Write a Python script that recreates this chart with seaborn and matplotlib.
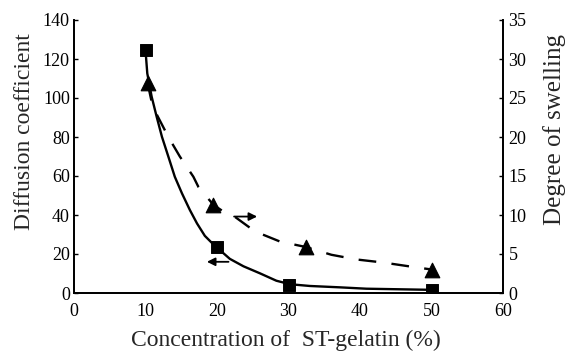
import numpy as np
import pandas as pd
import matplotlib
matplotlib.use("Agg")
import matplotlib.pyplot as plt
import seaborn as sns

# ---- data ----
conc_diff = [10, 20, 30, 50]                 # squares (left axis)
diffusion = [124.5, 23.5, 4.3, 1.5]
conc_swell = [10.3, 19.5, 32.4, 50.1]        # triangles (right axis)
swelling = [26.9, 11.3, 5.9, 3.0]

# smooth fitted curves as drawn in the picture
solid_x = [10.0, 10.25, 10.86, 11.56, 12.3, 13.2, 14.1, 15.1, 16.2, 17.2, 18.3, 19.2, 20.0,
           21.8, 23.7, 26.0, 28.3, 30.2, 33.0, 37.2, 40.9, 45.6, 50.3]
solid_y = [124.5, 112.6, 100.7, 90.4, 80.1, 69.9, 59.6, 51.1, 42.6, 35.7, 29.3, 26.0, 23.3,
           17.5, 13.7, 10.1, 6.3, 4.5, 3.6, 2.9, 2.2, 1.9, 1.6]
dash_x = [10.3, 11.0, 13.2, 14.8, 16.7, 17.4, 19.5, 21.6, 22.3, 25.3, 28.8, 32.4, 36.0,
          39.5, 43.3, 47.0, 50.1]
dash_y = [26.9, 23.9, 20.0, 17.5, 14.9, 13.6, 11.3, 10.0, 9.9, 7.9, 6.6, 5.9, 4.9,
          4.3, 3.9, 3.4, 3.0]

x_ticks = [0, 10, 20, 30, 40, 50, 60]
left_ticks = [0, 20, 40, 60, 80, 100, 120, 140]
right_ticks = [0, 5, 10, 15, 20, 25, 30, 35]

sns.set_theme(style="white")
plt.rcParams["font.family"] = ["Liberation Serif", "DejaVu Serif"]
plt.rcParams["xtick.direction"] = "in"
plt.rcParams["ytick.direction"] = "in"

fig = plt.figure(figsize=(5.67, 3.52), dpi=100)
ax = fig.add_axes([74/567, 1-293/352, (503-74)/567, (293-20)/352])
ax2 = ax.twinx()

sns.lineplot(x=solid_x, y=solid_y, ax=ax, color="black", lw=1.7, sort=False, estimator=None)
sns.scatterplot(x=conc_diff, y=diffusion, ax=ax, marker="s", s=70, color="black",
                edgecolor="black", zorder=5)

sns.lineplot(x=dash_x, y=dash_y, ax=ax2, color="black", lw=1.7, sort=False, estimator=None)
ax2.lines[-1].set_linestyle((0, (7.5, 6.5)))
sns.scatterplot(x=conc_swell, y=swelling, ax=ax2, marker="^", s=110, color="black",
                edgecolor="black", zorder=5)

# arrows indicating the axis of each curve
ax.annotate("", xy=(18.2, 16.0), xytext=(22.0, 16.0),
            arrowprops=dict(arrowstyle="-|>", color="black", lw=1.3, mutation_scale=12))
ax2.annotate("", xy=(26.0, 9.8), xytext=(22.0, 9.8),
             arrowprops=dict(arrowstyle="-|>", color="black", lw=1.3, mutation_scale=12))

ax.set_xlim(0, 60)
ax.set_ylim(0, 140)
ax2.set_ylim(0, 35)
ax.set_xticks(x_ticks)
ax.set_yticks(left_ticks)
ax2.set_yticks(right_ticks)

ax.set_xlabel("Concentration of  ST-gelatin (%)", fontsize=17)
ax.set_ylabel("Diffusion coefficient", fontsize=17)
ax2.set_ylabel("Degree of swelling", fontsize=18)
ax.xaxis.set_label_coords(0.494, -0.135)
ax.yaxis.set_label_coords(-0.092, 0.59)
ax2.yaxis.set_label_coords(1.093, 0.598)

for a in (ax, ax2):
    a.spines["top"].set_visible(False)
    for s in a.spines.values():
        s.set_color("black")
        s.set_linewidth(1.3)
    a.tick_params(colors="black", labelsize=13, length=3, width=1, pad=3)
    a.grid(False)
ax.tick_params(axis="x", pad=7)
ax.tick_params(axis="y", which="both", right=False)
ax2.tick_params(axis="y", left=False, pad=4)

fig.savefig("out.png", dpi=100)
